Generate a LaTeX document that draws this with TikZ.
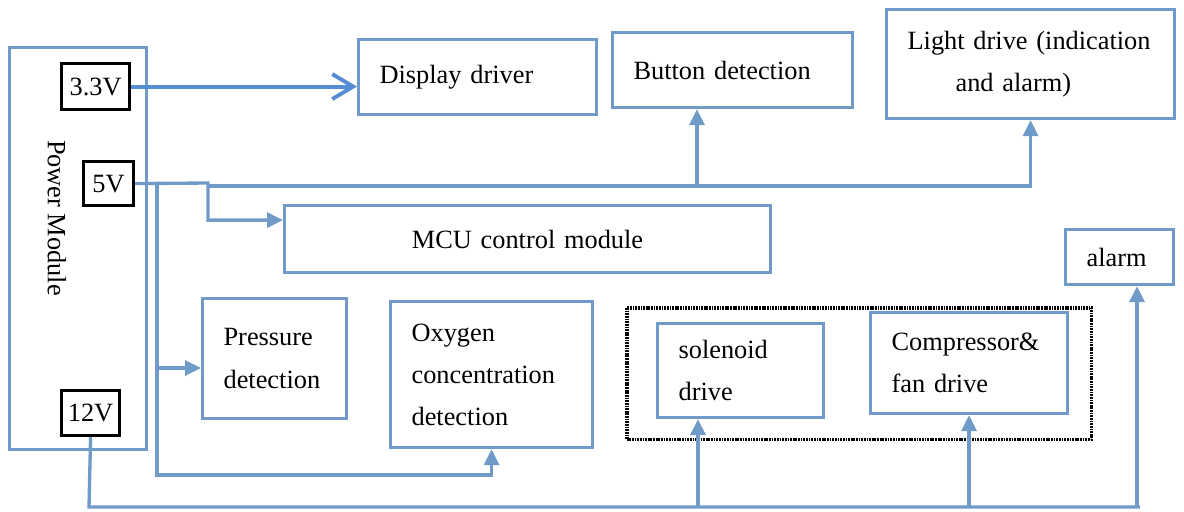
\documentclass[tikz,border=0pt]{standalone}
\usepackage{fontspec}
\setmainfont{Liberation Serif}
\usetikzlibrary{arrows.meta}
\definecolor{boxblue}{RGB}{112,155,200}
\definecolor{feedblue}{RGB}{84,141,212}
\tikzset{
  block/.style={draw=boxblue, line width=1.8pt, anchor=north west, inner xsep=0.42cm, inner ysep=0pt, align=left},
  volt/.style={draw=black, line width=1.8pt, anchor=north west, inner sep=0pt, fill=white},
  wire/.style={draw=boxblue, line width=1.9pt},
  feed/.style={wire, -{Triangle[length=0.32cm,width=0.3cm]}}
}
\begin{document}
\begin{tikzpicture}[x=0.02cm, y=-0.02cm, every node/.style={font=\fontsize{15}{24}\selectfont}]
    \useasboundingbox (0,0) rectangle (1184,511);

    \node[block, minimum width=2.74cm, minimum height=8.04cm] (power) at (8,46) {};
    \node[rotate=-90] (pmlabel) at (57,218) {Power Module};
    \node[volt, minimum width=1.36cm, minimum height=0.92cm] (v33) at (60,62) {3.3V};
    \node[volt, minimum width=1.0cm, minimum height=0.88cm] (v5) at (82,160) {5V};
    \node[volt, minimum width=1.16cm, minimum height=0.9cm] (v12) at (60,389) {12V};

    \node[block, text width=3.92cm, minimum height=1.5cm] (display) at (357,38) {Display driver};
    \node[block, text width=3.96cm, minimum height=1.5cm] (button) at (611,31) {Button detection};
    \node[block, text width=4.92cm, minimum height=2.18cm] (light) at (885,8) {Light drive (indication\\\hspace*{0.96cm}and alarm)};
    \node[block, text width=8.88cm, minimum height=1.34cm, align=center] (mcu) at (283,204) {MCU control module};
    \node[block, text width=1.32cm, minimum height=1.1cm] (alarm) at (1064,228) {alarm};
    \node[block, text width=2.04cm, minimum height=2.4cm] (pressure) at (201,297) {Pressure\\detection};
    \node[block, text width=3.2cm, minimum height=2.92cm] (oxygen) at (389,300) {Oxygen\\concentration\\detection};
    \node[draw, line width=2pt, dash pattern=on 1pt off 0.5pt, anchor=north west, minimum width=9.3cm, minimum height=2.64cm] (drives) at (625,306) {};
    \node[block, text width=2.48cm, minimum height=1.88cm] (solenoid) at (656,322) {solenoid\\drive};
    \node[block, text width=3.1cm, minimum height=2.02cm] (compressor) at (869,311) {Compressor\&\\fan drive};

    % 3.3V feed
    \draw[line width=2.2pt, feedblue, -{Straight Barb[length=0.42cm,width=0.5cm]}] (v33.east) -- (display.west |- v33.east);

    % 5V feeds
    \coordinate (j5) at (208,183);
    \coordinate (bus5) at (208,186);
    \coordinate (btap) at (697,186);
    \coordinate (j5b) at (157,183);
    \coordinate (j5c) at (157,475);
    \coordinate (ptap) at (155,368);
    \draw[feed] (v5.east) -- (j5) |- ([yshift=0.38cm]mcu.west);
    \draw[feed] (bus5) -| (light.south);
    \draw[feed] (btap) -- (btap |- button.south);
    \draw[feed] (j5b) -- (j5c) -| (oxygen.south);
    \draw[feed] (ptap) -- (ptap -| pressure.west);

    % 12V feeds
    \coordinate (j12) at (89,507);
    \coordinate (end12) at (1140,507);
    \coordinate (stap) at (698,507);
    \coordinate (atap) at (1137,507);
    \draw[wire] (v12.south) -- (j12) -- (end12);
    \draw[feed] (stap) -- (stap |- solenoid.south);
    \draw[feed] (j12 -| compressor.south) -- (compressor.south);
    \draw[feed] (atap) -- (atap |- alarm.south);
\end{tikzpicture}
\end{document}
